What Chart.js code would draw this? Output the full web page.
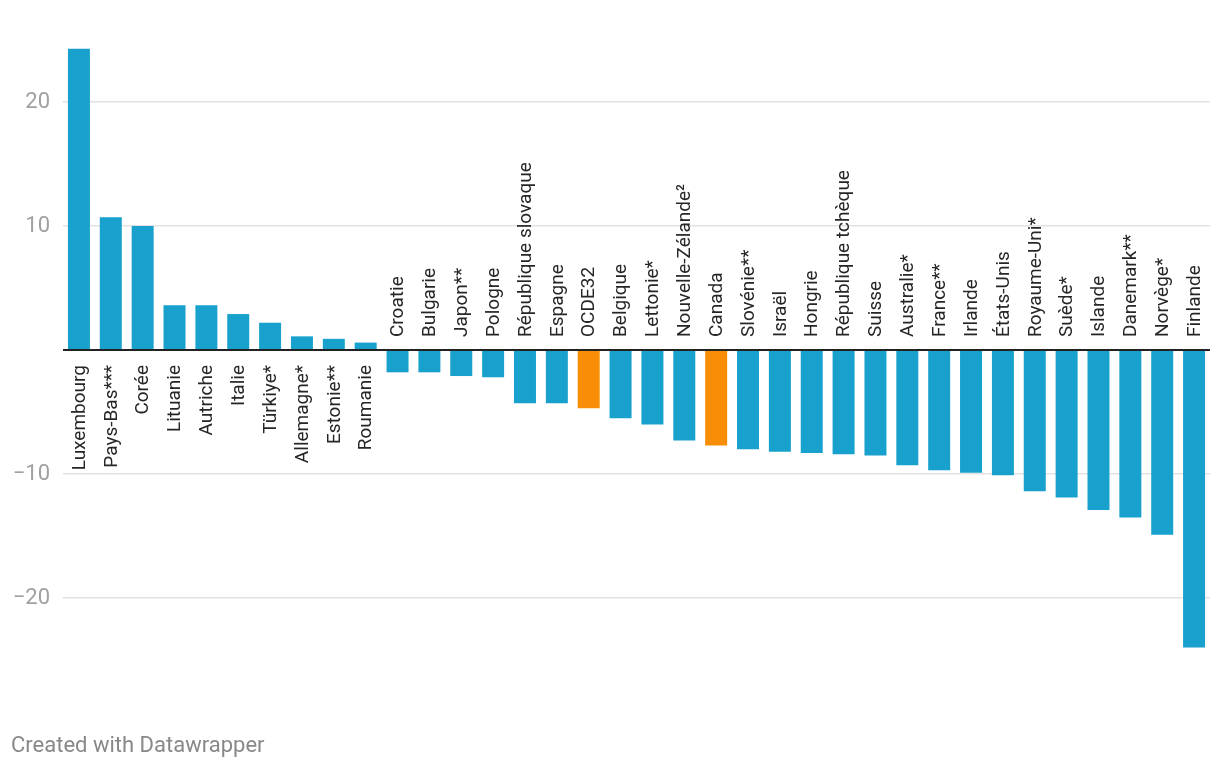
<!DOCTYPE html>
<html>
<head>
<meta charset="utf-8">
<script src="https://cdn.jsdelivr.net/npm/chart.js@4.4.1/dist/chart.umd.min.js"></script>
<style>
  body { margin: 0; background: #fff; }
  #wrap { position: relative; width: 1220px; height: 768px; }
  #footer {
    position: absolute; left: 11px; top: 734px;
    font-family: Roboto, sans-serif; font-size: 22px; line-height: 22px;
    color: #888;
  }
</style>
</head>
<body>
<div id="wrap">
  <canvas id="chart" width="1220" height="768"></canvas>
  <div id="footer">Created with Datawrapper</div>
</div>
<script>
const countries = ['Luxembourg', 'Pays-Bas***', 'Corée', 'Lituanie', 'Autriche', 'Italie', 'Türkiye*',
  'Allemagne*', 'Estonie**', 'Roumanie', 'Croatie', 'Bulgarie', 'Japon**', 'Pologne',
  'République slovaque', 'Espagne', 'OCDE32', 'Belgique', 'Lettonie*', 'Nouvelle-Zélande²',
  'Canada', 'Slovénie**', 'Israël', 'Hongrie', 'République tchèque', 'Suisse', 'Australie*',
  'France**', 'Irlande', 'États-Unis', 'Royaume-Uni*', 'Suède*', 'Islande', 'Danemark**',
  'Norvège*', 'Finlande'];
const values = [24.3, 10.7, 10.0, 3.6, 3.6, 2.9, 2.2, 1.1, 0.9, 0.6, -1.8, -1.8, -2.1, -2.2,
  -4.3, -4.3, -4.7, -5.5, -6.0, -7.3, -7.7, -8.0, -8.2, -8.3, -8.4, -8.5, -9.3,
  -9.7, -9.9, -10.1, -11.4, -11.9, -12.9, -13.5, -14.9, -24.0];
const highlighted = ['OCDE32', 'Canada'];
const yTicks = [-20, -10, 0, 10, 20];

const blue = '#18a1cd';
const orange = '#f78e05';

// étiquettes verticales des pays, collées à la ligne zéro
const countryLabels = {
  id: 'countryLabels',
  afterDatasetsDraw(chart) {
    const { ctx, scales: { x, y } } = chart;
    const zero = y.getPixelForValue(0);
    ctx.save();
    ctx.font = '19px Roboto, sans-serif';
    ctx.fillStyle = '#262626';
    ctx.textBaseline = 'middle';
    countries.forEach((name, i) => {
      const px = x.getPixelForValue(i);
      ctx.save();
      if (values[i] >= 0) {
        ctx.translate(px, zero + 15);
        ctx.rotate(-Math.PI / 2);
        ctx.textAlign = 'right';
      } else {
        ctx.translate(px, zero - 13);
        ctx.rotate(-Math.PI / 2);
        ctx.textAlign = 'left';
      }
      ctx.fillText(name, 0, 1);
      ctx.restore();
    });
    ctx.restore();
  }
};

new Chart(document.getElementById('chart'), {
  type: 'bar',
  data: {
    labels: countries,
    datasets: [{
      data: values,
      backgroundColor: countries.map(c => highlighted.includes(c) ? orange : blue),
      barPercentage: 0.69,
      categoryPercentage: 1
    }]
  },
  options: {
    responsive: false,
    animation: false,
    layout: { padding: { top: 40, bottom: 108, right: 10, left: 0 } },
    plugins: { legend: { display: false }, tooltip: { enabled: false } },
    scales: {
      x: { display: false },
      y: {
        min: -25,
        max: 25,
        afterFit: axis => { axis.width = 63; },
        afterBuildTicks: axis => { axis.ticks = yTicks.map(v => ({ value: v })); },
        border: { display: false },
        grid: {
          drawTicks: false,
          color: c => c.tick.value === 0 ? '#222' : '#e2e2e2',
          lineWidth: c => c.tick.value === 0 ? 2 : 1.5
        },
        ticks: {
          padding: 13,
          color: '#a0a0a0',
          font: { family: 'Roboto', size: 22 },
          callback: v => v === 0 ? '' : String(v).replace('-', '\u2212')
        }
      }
    }
  },
  plugins: [countryLabels]
});
</script>
</body>
</html>
